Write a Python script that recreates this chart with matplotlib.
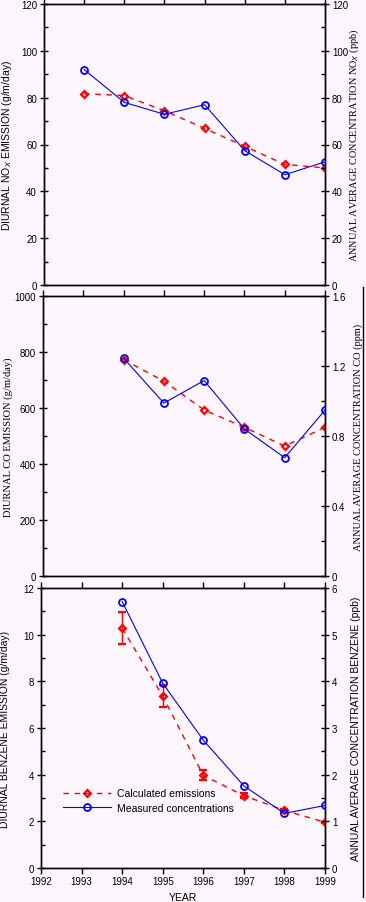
import numpy as np
import matplotlib
matplotlib.use("Agg")
import matplotlib.pyplot as plt
from matplotlib.lines import Line2D
from matplotlib.ticker import MultipleLocator, FuncFormatter
from matplotlib.transforms import Bbox, TransformedBbox

# data
years = [1993, 1994, 1995, 1996, 1997, 1998, 1999]
nox_calc = [81.7, 80.9, 74.4, 66.9, 59.2, 51.5, 50.0]
nox_meas = [92.0, 78.0, 72.9, 77.0, 57.4, 47.1, 52.6]

co_years = [1994, 1995, 1996, 1997, 1998, 1999]
co_calc = [773, 696, 593, 531, 464, 531]
co_meas = [1.245, 0.988, 1.117, 0.840, 0.676, 0.948]

bz_years = [1994, 1995, 1996, 1997, 1998, 1999]
bz_calc = [10.28, 7.37, 3.97, 3.10, 2.47, 1.96]
bz_err = [0.69, 0.46, 0.21, 0.12, 0.05, 0.03]
bz_meas = [5.71, 3.96, 2.74, 1.76, 1.17, 1.34]

xticks = [1992, 1993, 1994, 1995, 1996, 1997, 1998, 1999]

bg = '#fdf6fd'
sans = 'Liberation Sans'
serif = 'Liberation Serif'
plt.rcParams['font.family'] = sans

fig = plt.figure(figsize=(3.66, 9.03), dpi=100, facecolor=bg)
W, H = 366.0, 903.0


def make_axes(l, r, t, b):
    return fig.add_axes([l / W, 1 - b / H, (r - l) / W, (b - t) / H])


def fmt(v, pos):
    return '0' if v == 0 else ('%g' % v)


def style(ax, ax2, lmax, lstep, rmax, rstep, bottom_labels):
    ax.set_facecolor(bg)
    ax.set_xlim(1992, 1999)
    ax.set_xticks(xticks)
    ax.set_ylim(0, lmax)
    ax.yaxis.set_major_locator(MultipleLocator(lstep))
    ax.yaxis.set_minor_locator(MultipleLocator(lstep / 2))
    ax.yaxis.set_major_formatter(FuncFormatter(fmt))
    ax2.set_ylim(0, rmax)
    ax2.yaxis.set_major_locator(MultipleLocator(rstep))
    ax2.yaxis.set_minor_locator(MultipleLocator(rstep / 2))
    ax2.yaxis.set_major_formatter(FuncFormatter(fmt))
    ax.tick_params(axis='y', which='major', direction='inout', length=6, width=1,
                   labelsize=7, pad=2)
    ax.tick_params(axis='y', which='minor', direction='in', length=3, width=1)
    ax2.tick_params(axis='y', which='major', direction='inout', length=6, width=1,
                    labelsize=7, pad=2)
    ax2.tick_params(axis='y', which='minor', direction='in', length=3, width=1)
    ax.tick_params(axis='x', top=True, bottom=bottom_labels, labeltop=False,
                   labelbottom=bottom_labels, direction='out', length=4, width=1,
                   labelsize=7, pad=2)
    for a in (ax, ax2):
        for s in a.spines.values():
            s.set_linewidth(1)


red_kw = dict(color='#ff0000', linestyle=(0, (4, 4)), linewidth=1,
              marker='D', markersize=3.5, markerfacecolor='none',
              markeredgewidth=1.6, zorder=3)
blue_kw = dict(color='#0000ff', linestyle='-', linewidth=0.8,
               marker='o', markersize=5, markerfacecolor='none',
               markeredgewidth=1.3, zorder=4)

# panel 1: NOx
ax1 = make_axes(44, 325, 5, 286)
ax1b = ax1.twinx()
ax1.plot(years, nox_calc, **red_kw)
ax1b.plot(years, nox_meas, **blue_kw)
style(ax1, ax1b, 120, 20, 120, 20, False)
ax1.set_ylabel('DIURNAL NO$_X$ EMISSION (g/m/day)', fontsize=7.5, family=sans)
ax1.yaxis.set_label_coords(-0.108, 0.5)
ax1b.set_ylabel('ANNUAL AVERAGE CONCENTRATION NO$_X$ (ppb)', fontsize=7.4, family=serif)
ax1b.yaxis.set_label_coords(1.08, 0.5)

# panel 2: CO
ax2 = make_axes(43, 325, 297, 577)
ax2b = ax2.twinx()
ax2.plot(co_years, co_calc, **red_kw)
ax2b.plot(co_years, co_meas, **blue_kw)
style(ax2, ax2b, 1000, 200, 1.6, 0.4, False)
ax2.set_ylabel('DIURNAL CO EMISSION (g/m/day)', fontsize=7.6, family=serif)
ax2.yaxis.set_label_coords(-0.108, 0.5)
ax2b.set_ylabel('ANNUAL AVERAGE CONCENTRATION CO (ppm)', fontsize=7.5, family=serif)
ax2b.yaxis.set_label_coords(1.1, 0.5)

# panel 3: benzene
ax3 = make_axes(41, 325, 589, 869)
ax3b = ax3.twinx()
ax3.errorbar(bz_years, bz_calc, yerr=bz_err, capsize=3, elinewidth=1,
             capthick=1, ecolor='#ff0000', **red_kw)
ax3b.plot(bz_years, bz_meas, **blue_kw)
style(ax3, ax3b, 12, 2, 6, 1, True)
ax3.set_ylabel('DIURNAL BENZENE EMISSION (g/m/day)', fontsize=7.5, family=sans)
ax3.yaxis.set_label_coords(-0.11, 0.5)
ax3.set_xlabel('YEAR', fontsize=7.5, labelpad=4)
lab = ax3b.set_ylabel('ANNUAL AVERAGE CONCENTRATION BENZENE (ppb)', fontsize=7.5, family=sans)
ax3b.yaxis.set_label_coords(1.092, 0.5)
lab.set_clip_on(True)
lab.set_clip_box(TransformedBbox(Bbox([[0, 0], [362.0 / W, 1]]), fig.transFigure))

handles = [Line2D([], [], **red_kw), Line2D([], [], **blue_kw)]
ax3b.legend(handles, ['Calculated emissions', 'Measured concentrations'],
            loc='center left', bbox_to_anchor=(0.045, 0.241), frameon=False,
            fontsize=7.5, handlelength=4.6, labelspacing=0.45, handletextpad=0.6)

# thin frame line on the far right
fig.add_artist(Line2D([362.5 / W, 362.5 / W], [1 - 898 / H, 1 - 288 / H],
                      color='black', linewidth=1, transform=fig.transFigure))

fig.savefig('out.png', dpi=100, facecolor=bg)
